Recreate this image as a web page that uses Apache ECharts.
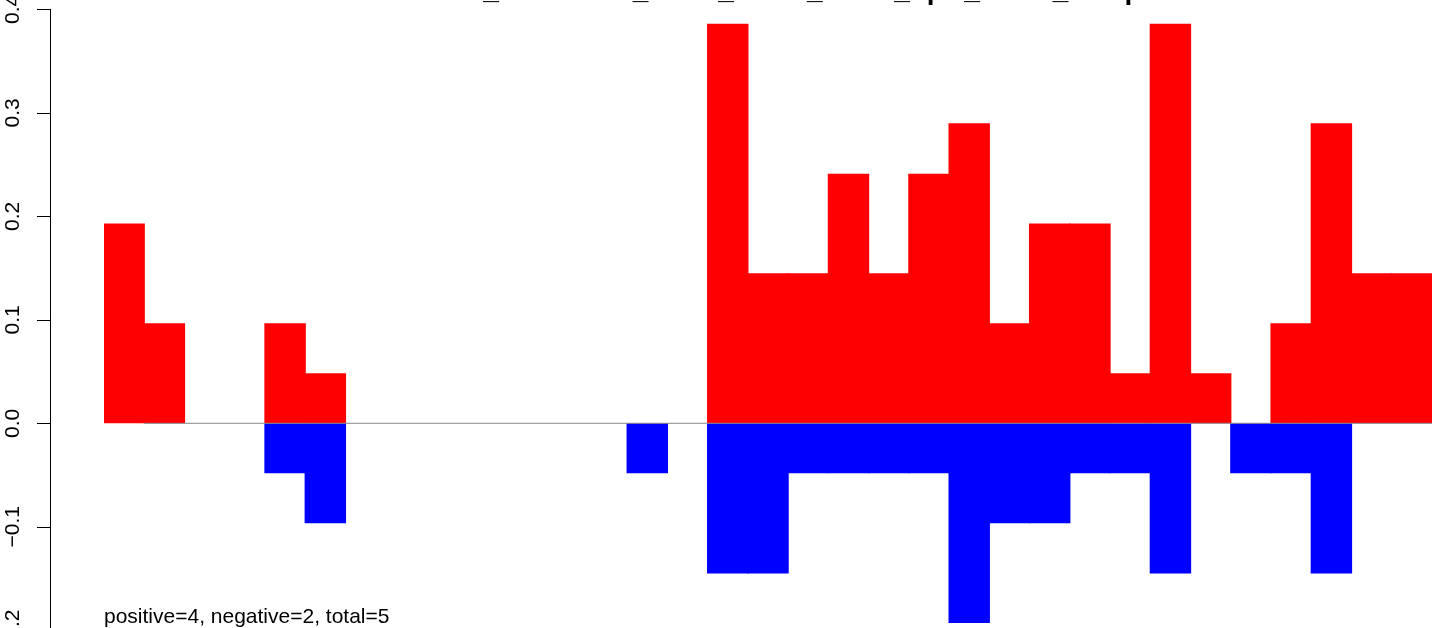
<!DOCTYPE html>
<html>
<head>
<meta charset="utf-8">
<script src="https://cdn.jsdelivr.net/npm/echarts@6/dist/echarts.min.js"></script>
<style>
  html, body { margin: 0; padding: 0; background: #fff; }
  #main { width: 1441px; height: 628px; }
</style>
</head>
<body>
<div id="main"></div>
<script>
// one bar per position, red above zero, blue below
var categories = [];
for (var i = 1; i <= 33; i++) categories.push(String(i));

var upValues = [0.193, 0.0966, 0, 0, 0.0966, 0.0483, 0, 0, 0, 0, 0, 0, 0, 0, 0,
    0.386, 0.145, 0.145, 0.241, 0.145, 0.241, 0.290, 0.0966, 0.193, 0.193,
    0.0483, 0.386, 0.0483, 0, 0.0966, 0.290, 0.145, 0.145];
var downValues = [0, 0, 0, 0, -0.0483, -0.0966, 0, 0, 0, 0, 0, 0, 0, -0.0483, 0,
    -0.145, -0.145, -0.0483, -0.0483, -0.0483, -0.0483, -0.193, -0.0966, -0.0966,
    -0.0483, -0.0483, -0.145, 0, -0.0483, -0.0483, -0.145, 0, 0];
var yTicks = [-0.2, -0.1, 0.0, 0.1, 0.2, 0.3, 0.4];
var zeroLine = [[1, 0], [33, 0]];

var titleText = 'TCGA_mutations_norm_mean_mask_uprt_down_samples';
var noteText = 'positive=4, negative=2, total=5';

// empty cells are left out so they draw nothing
function skipZero(arr) {
    return arr.map(function (v) { return v === 0 ? '-' : v; });
}

var yMin = yTicks[0], yMax = yTicks[yTicks.length - 1];

option = {
animation: false,
backgroundColor: '#fff',
textStyle: { fontFamily: 'Liberation Sans' },
title: [{
    text: titleText,
    left: 404,
    top: -23,
    padding: 0,
    textStyle: {
        fontFamily: 'Liberation Sans',
        fontWeight: 'bold',
        fontSize: 28,
        lineHeight: 28,
        color: '#000'
    }
}, {
    text: noteText,
    left: 104,
    top: 607,
    padding: 0,
    textStyle: {
        fontFamily: 'Liberation Sans',
        fontWeight: 'normal',
        fontSize: 21,
        lineHeight: 21,
        color: '#000'
    }
}],
grid: [{
    // axis only
    left: 50,
    right: 9,
    top: 9.3,
    height: 621,
    containLabel: false,
    outerBoundsMode: 'none'
}, {
    // bars
    left: 104,
    right: 9,
    top: 9.3,
    height: 621,
    containLabel: false,
    outerBoundsMode: 'none'
}],
xAxis: [{
    type: 'value',
    gridIndex: 0,
    min: 0,
    max: 1,
    show: false
}, {
    type: 'category',
    gridIndex: 1,
    data: categories,
    show: false
}, {
    type: 'value',
    gridIndex: 1,
    min: 0,
    max: 33,
    show: false
}],
yAxis: [{
    type: 'value',
    gridIndex: 0,
    min: yMin,
    max: yMax,
    interval: 0.1,
    splitLine: { show: false },
    axisLine: {
        show: true,
        lineStyle: { color: '#000', width: 1 }
    },
    axisTick: {
        show: true,
        length: 13,
        lineStyle: { color: '#000', width: 1 }
    },
    axisLabel: {
        rotate: 90,
        margin: 26,
        fontSize: 21,
        color: '#000',
        fontFamily: 'Liberation Sans',
        showMinLabel: true,
        showMaxLabel: true,
        formatter: function (v) {
            return v.toFixed(1).replace('-', '\u2212');
        }
    }
}, {
    type: 'value',
    gridIndex: 1,
    min: yMin,
    max: yMax,
    interval: 0.1,
    show: false
}],
series: [{
    name: 'positive',
    type: 'bar',
    xAxisIndex: 1,
    yAxisIndex: 1,
    stack: 'all',
    barWidth: '103%',
    color: '#ff0000',
    data: skipZero(upValues)
}, {
    name: 'negative',
    type: 'bar',
    xAxisIndex: 1,
    yAxisIndex: 1,
    stack: 'all',
    barWidth: '103%',
    color: '#0000ff',
    data: skipZero(downValues)
}, {
    name: 'zero',
    type: 'line',
    xAxisIndex: 2,
    yAxisIndex: 1,
    symbol: 'none',
    silent: true,
    z: 5,
    lineStyle: { color: '#888888', width: 1 },
    data: zeroLine
}]
};
var myChart = echarts.init(document.getElementById('main'));
myChart.setOption(option);
</script>
</body>
</html>
